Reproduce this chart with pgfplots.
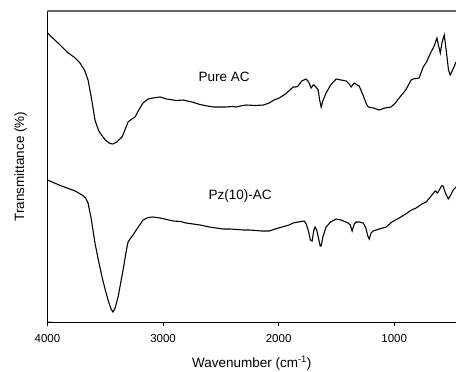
\documentclass[border=0pt]{standalone}
\usepackage{pgfplots}
\pgfplotsset{compat=1.18}
\usepackage{fontspec}
\setmainfont{Liberation Sans}
\begin{document}
\begin{tikzpicture}
\begin{axis}[
  scale only axis,
  width=408.5pt, height=311pt,
  x dir=reverse,
  xmin=465, xmax=4000,
  ymin=0, ymax=311,
  axis x line*=bottom,
  axis y line*=left,
  axis line style={black, line width=0.9pt, -},
  xtick={1000,2000,3000,4000},
  ytick=\empty,
  tick align=outside,
  major tick length=4pt,
  tick style={black, line width=0.9pt},
  /pgf/number format/assume math mode=true,
  /pgf/number format/set thousands separator={},
  ticklabel style={font=\fontsize{11.5}{12}\selectfont},
  xticklabel style={yshift=-5pt},
  xlabel={Wavenumber (cm\textsuperscript{-1})},
  ylabel={Transmittance (\%)},
  label style={font=\fontsize{13.5}{14}\selectfont},
  xlabel style={yshift=-6pt},
  ylabel style={yshift=13pt},
  clip=true,
]
\addplot[black, line width=1.1pt] coordinates {
(4000,289) (3900,278) (3831,270) (3760,264) (3719,259) (3680,252) (3649,242) (3620,224)
(3589,202) (3560,192) (3545,189) (3500,182) (3460,178.5) (3433,178) (3400,180) (3355,185)
(3330,192) (3303,200) (3270,203) (3242,205) (3210,212) (3173,219) (3130,223) (3087,224)
(3026,225) (2970,223) (2912,222) (2880,221.5) (2827,222) (2750,220) (2680,217.5) (2621,216)
(2560,215) (2507,215) (2455,215) (2400,215.5) (2368,215) (2330,216) (2281,217) (2200,216.5)
(2130,217) (2082,219) (2040,222) (1995,224) (1940,228) (1874,235) (1850,235) (1831,236)
(1800,241) (1762,243) (1740,240) (1719,234) (1700,237) (1693,237) (1670,234) (1658,232)
(1645,222) (1632,215) (1615,222) (1589,229) (1550,237) (1502,243) (1460,242) (1416,241)
(1390,238) (1372,235) (1346,239) (1320,237) (1303,236) (1270,227) (1240,218) (1225,215)
(1180,214) (1130,212) (1080,214) (1026,215) (990,219) (957,224) (900,232) (853,242)
(836,243) (784,244) (749,255) (720,260) (689,268) (654,276) (630,284) (615,276) (601,269)
(585,280) (567,287) (550,272) (530,252) (515,247) (490,253) (465,260)
};
\addplot[black, line width=1.1pt] coordinates {
(4000,142) (3900,137) (3831,134) (3760,131) (3701,127) (3670,124) (3649,119) (3620,102)
(3589,79) (3560,62) (3528,45) (3500,32) (3476,22) (3450,13) (3433,10) (3415,14)
(3389,25) (3370,37) (3346,52) (3320,70) (3303,80) (3280,84) (3260,87) (3220,94)
(3173,102) (3130,104.5) (3087,105) (3026,104) (2970,102.5) (2912,101) (2850,100.5) (2800,99)
(2740,98) (2680,97) (2600,95) (2540,94) (2480,93) (2420,93) (2360,92.5) (2307,92)
(2250,92) (2200,91.5) (2150,91) (2082,91) (2030,93) (1970,95) (1910,97) (1874,99)
(1830,100) (1779,101) (1760,98) (1740,90) (1725,82) (1710,81) (1695,92) (1684,95)
(1670,92) (1655,84) (1640,76) (1632,76) (1615,86) (1589,95) (1550,100) (1502,103)
(1460,102) (1398,99) (1380,97) (1364,91) (1345,98) (1329,100) (1300,100) (1268,99)
(1245,94) (1228,86) (1216,83) (1200,89) (1182,91) (1130,93) (1069,95) (1020,100)
(957,104) (900,108) (850,112) (810,114) (760,118) (723,120) (680,126) (645,131)
(625,129) (610,132) (590,136) (576,136) (560,130) (532,123) (510,127) (490,132)
(465,135)
};
\node[font=\fontsize{13.5}{14}\selectfont] at (axis cs:2472,245) {Pure AC};
\node[font=\fontsize{13.5}{14}\selectfont] at (axis cs:2333,126) {Pz(10)-AC};
\draw[gray!80!black, line width=1.3pt] (rel axis cs:0,1) -- (rel axis cs:1,1);
\draw[black, line width=0.9pt] (rel axis cs:0,0) -- ++(0,-4pt);
\end{axis}
\pgfresetboundingbox
\path (-47.5pt,-50pt) rectangle (408.5pt,322pt);
\end{tikzpicture}
\end{document}
